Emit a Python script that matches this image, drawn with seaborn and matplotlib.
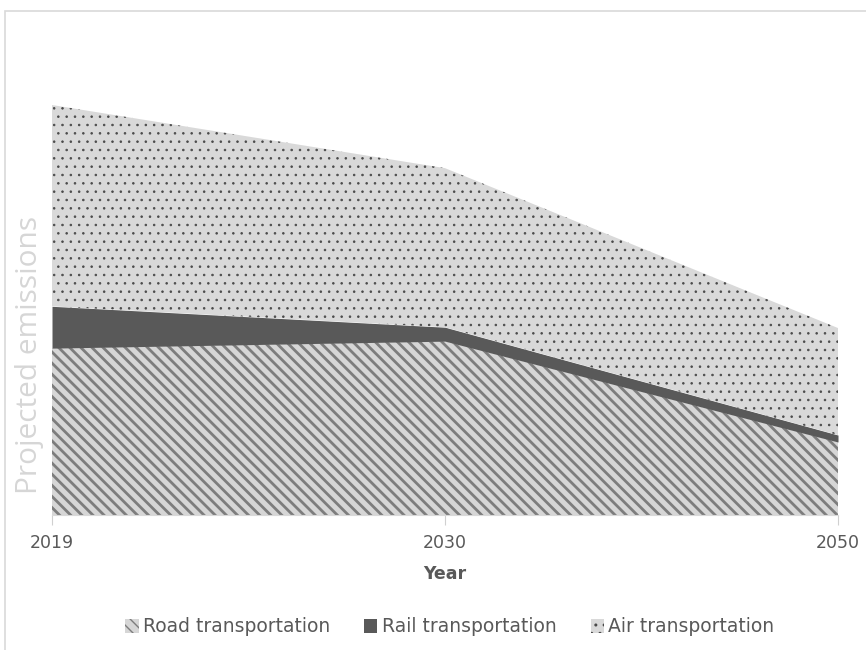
import numpy as np
import pandas as pd
import matplotlib
matplotlib.use("Agg")
import matplotlib.pyplot as plt
from matplotlib.patches import Patch, Rectangle
import seaborn as sns

# Projected emissions by transport mode (relative units, 2019 total = 100)
years = ["2019", "2030", "2050"]
road = [40.7, 42.4, 17.8]
rail = [10.2, 3.4, 1.7]
air = [49.1, 38.8, 26.1]
series_names = ["Road transportation", "Rail transportation", "Air transportation"]

df = pd.DataFrame({"Year": years, "Road": road, "Rail": rail, "Air": air})

sns.set_theme(style="white")
plt.rcParams["font.family"] = ["DejaVu Sans"]

fig = plt.figure(figsize=(8.66, 6.5), dpi=100)
W, H = 866, 650
ax = fig.add_axes([52 / W, (H - 515) / H, (838 - 52) / W, (515 - 23) / H])

x = np.arange(len(df))
lower = np.zeros(len(df))
styles = [
    dict(col="Road", face="#d6d6d6", edge="#7d7d7d", hatch="\\\\\\", hlw=2.0),
    dict(col="Rail", face="#595959", edge="#595959", hatch=None, hlw=1.0),
    dict(col="Air", face="#d9d9d9", edge="#4a4a4a", hatch="..", hlw=0.6),
]
handles = []
for st, name in zip(styles, series_names):
    upper = lower + df[st["col"]].to_numpy()
    with plt.rc_context({"hatch.linewidth": st["hlw"], "hatch.color": st["edge"]}):
        ax.fill_between(x, lower, upper, facecolor=st["face"], edgecolor=st["edge"],
                        hatch=st["hatch"], linewidth=0)
        handles.append(Patch(facecolor=st["face"], edgecolor=st["edge"],
                             hatch=st["hatch"], linewidth=0, label=name))
    lower = upper

ax.set_xlim(0, len(df) - 1)
ax.set_ylim(0, 120)
ax.set_xticks(x)
ax.set_xticklabels(df["Year"], fontsize=12.5, color="#595959")
ax.set_yticks([])
ax.tick_params(axis="x", length=7, width=0.8, color="#d0d0d0", pad=7, bottom=True)
sns.despine(ax=ax, left=True, top=True, right=True)
ax.spines["bottom"].set_color("#d9d9d9")
ax.spines["bottom"].set_linewidth(0.8)
ax.set_xlabel("Year", fontsize=12.5, fontweight="bold", color="#595959", labelpad=9)
ax.patch.set_alpha(0)

fig.text(30 / W, (H - 355) / H, "Projected emissions", rotation=90, ha="center",
         va="center", fontsize=21.5, color="#d6d6d6", family=["Open Sans", "DejaVu Sans"])

fig.legend(handles=handles, loc="center", bbox_to_anchor=(450 / W, (H - 627) / H),
           ncol=3, frameon=False, fontsize=13.5, labelcolor="#595959",
           handlelength=0.7, handleheight=0.7, handletextpad=0.25, columnspacing=1.8)

fig.add_artist(Rectangle((5 / W, -0.05), 1.1, (H - 11) / H + 0.05,
                         transform=fig.transFigure, fill=False,
                         edgecolor="#d9d9d9", linewidth=1.2, clip_on=False))

fig.savefig("out.png", dpi=100)
